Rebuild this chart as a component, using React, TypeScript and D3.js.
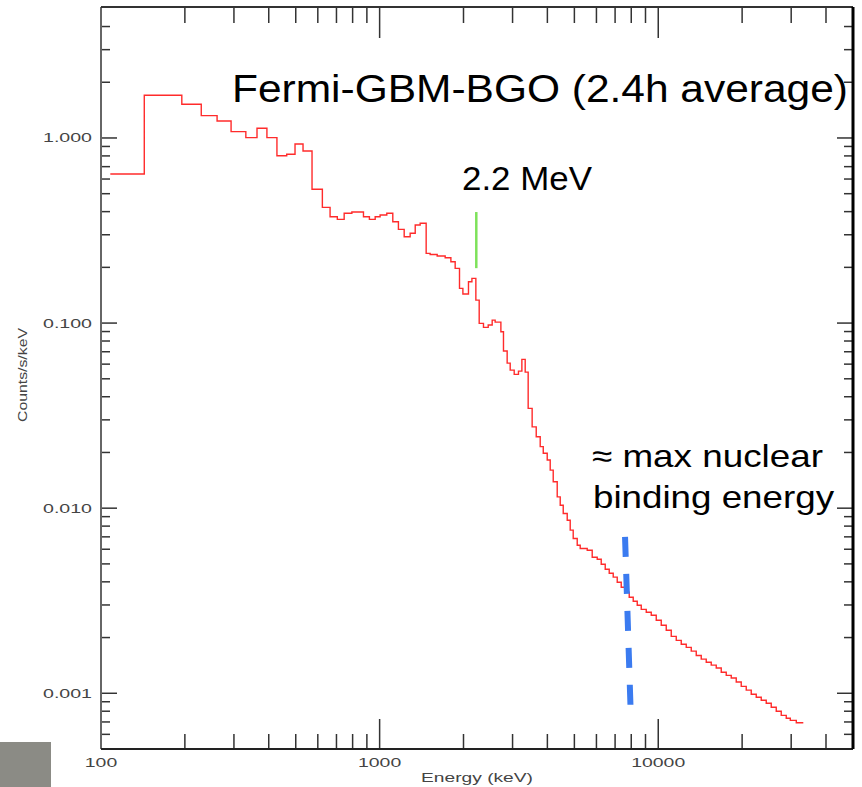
import React from "react";
import * as d3 from "d3";

// ---- Data ----
// bin edges in keV (length = values.length + 1)
const binEdges: number[] = [
  108, 143, 195, 229, 261, 293, 331, 363, 394, 428,
  464, 497, 531, 572, 623, 664, 705, 746, 795, 875,
  919, 964, 1004, 1061, 1115, 1168, 1225, 1287, 1342, 1398,
  1469, 1518, 1609, 1719, 1802, 1867, 1935, 1990, 2084, 2144,
  2215, 2277, 2359, 2453, 2535, 2598, 2724, 2783, 2869, 2942,
  3041, 3150, 3240, 3330, 3413, 3527, 3648, 3770, 3866, 3995,
  4095, 4198, 4339, 4448, 4560, 4713, 4831, 4952, 5119, 5247,
  5560, 5794, 6039, 6242, 6452, 6669, 6893, 7125, 7364, 7612,
  7868, 8132, 8406, 8689, 9056, 9438, 9836, 10251, 10683, 11134,
  11604, 12093, 12603, 13135, 13689, 14266, 14868, 15495, 16149, 16830,
  17540, 18280, 19051, 19854, 20692, 21565, 22475, 23423, 24411, 25441,
  26515, 27633, 28799, 29785, 31294, 33161,
];

// counts/s/keV per bin
const countRates: number[] = [
  0.639, 1.701, 1.521, 1.32, 1.236, 1.082, 1.004, 1.128, 1.004, 0.802,
  0.816, 0.928, 0.851, 0.528, 0.422, 0.3755, 0.3634, 0.3917, 0.398, 0.3755,
  0.3634, 0.3755, 0.3834, 0.3917, 0.3528, 0.3209, 0.2927, 0.3054, 0.3386, 0.3459,
  0.2381, 0.2346, 0.2302, 0.2254, 0.2145, 0.1975, 0.154, 0.1435, 0.1672, 0.1744,
  0.1331, 0.0996, 0.0948, 0.0976, 0.1038, 0.1012, 0.0897, 0.0706, 0.0608, 0.0557,
  0.0528, 0.055, 0.0637, 0.0543, 0.0346, 0.0275, 0.0243, 0.0215, 0.0198, 0.0182,
  0.01605, 0.01388, 0.01151, 0.01038, 0.00936, 0.00861, 0.00761, 0.00686, 0.00631, 0.00606,
  0.00593, 0.00543, 0.0053, 0.00498, 0.00468, 0.00445, 0.00424, 0.00398, 0.00374, 0.00352,
  0.0033, 0.00314, 0.00299, 0.00284, 0.00274, 0.00264, 0.00248, 0.00233, 0.00219, 0.00203,
  0.00193, 0.00184, 0.00177, 0.00169, 0.0016, 0.00153, 0.00147, 0.00142, 0.00137, 0.0013,
  0.00125, 0.00121, 0.00115, 0.00109, 0.00104, 0.000988, 0.000952, 0.000917, 0.000883, 0.00084,
  0.000799, 0.00076, 0.000733, 0.000714, 0.000693,
];

const xMajorTicks: number[] = [100, 1000, 10000];
const xMajorLabels: string[] = ["100", "1000", "10000"];
const xMinorTicks: number[] = [
  200, 300, 400, 500, 600, 700, 800, 900,
  2000, 3000, 4000, 5000, 6000, 7000, 8000, 9000,
  20000, 30000, 40000,
];
const yMajorTicks: number[] = [0.001, 0.01, 0.1, 1];
const yMajorLabels: string[] = ["0.001", "0.010", "0.100", "1.000"];
const yMinorTicks: number[] = [
  0.0006, 0.0007, 0.0008, 0.0009,
  0.002, 0.003, 0.004, 0.005, 0.006, 0.007, 0.008, 0.009,
  0.02, 0.03, 0.04, 0.05, 0.06, 0.07, 0.08, 0.09,
  0.2, 0.3, 0.4, 0.5, 0.6, 0.7, 0.8, 0.9,
  2, 3, 4,
];

const xDomain: [number, number] = [100, 50000];
const yDomain: [number, number] = [0.0005, 5.1];

const titleText = "Fermi-GBM-BGO (2.4h average)";
const lineLabel = "2.2 MeV";
const lineEnergy = 2223; // keV
const lineRange: [number, number] = [0.398, 0.198];
const bindingLabel1 = "\u2248 max nuclear";
const bindingLabel2 = "binding energy";
const bindingEnergyTop = 7600; // keV
const bindingEnergyBottom = 7950; // keV
const bindingRange: [number, number] = [0.0070, 0.00085];
const xAxisTitle = "Energy (keV)";
const yAxisTitle = "Counts/s/keV";

const W = 862;
const H = 787;
const L = 101, R = 853, T = 7, B = 749;

export default function App() {
  const x = d3.scaleLog().domain(xDomain).range([L, R]);
  const y = d3.scaleLog().domain(yDomain).range([B, T]);

  const pts: [number, number][] = countRates.map((v, i) => [binEdges[i], v]);
  pts.push([binEdges[binEdges.length - 1], countRates[countRates.length - 1]]);
  const line = d3
    .line<[number, number]>()
    .x((d) => x(d[0]))
    .y((d) => y(d[1]))
    .curve(d3.curveStepAfter);

  const tickColor = "#333";
  const labelFont = "'Liberation Sans', Arial, sans-serif";

  return (
    <svg
      width={W}
      height={H}
      style={{ position: "absolute", left: 0, top: 0, display: "block", background: "#fff" }}
    >
      <rect x={0} y={0} width={W} height={H} fill="#ffffff" />
      {/* gray block bottom-left */}
      <rect x={0} y={742} width={51} height={45} fill="#8b8b85" />

      {/* x ticks bottom and top */}
      {xMinorTicks.map((t) => (
        <g key={"xm" + t} stroke={tickColor} strokeWidth={1.5}>
          <line x1={x(t)} x2={x(t)} y1={B} y2={B - 15} />
          <line x1={x(t)} x2={x(t)} y1={T} y2={T + 16} />
        </g>
      ))}
      {xMajorTicks.map((t) => (
        <g key={"xM" + t} stroke={tickColor} strokeWidth={1.5}>
          <line x1={x(t)} x2={x(t)} y1={B} y2={B - 30} />
          <line x1={x(t)} x2={x(t)} y1={T} y2={T + 31} />
        </g>
      ))}
      {/* y ticks left and right */}
      {yMinorTicks.map((t) => (
        <g key={"ym" + t} stroke={tickColor} strokeWidth={1.5}>
          <line x1={L} x2={L + 9} y1={y(t)} y2={y(t)} />
          <line x1={R} x2={R - 9} y1={y(t)} y2={y(t)} />
        </g>
      ))}
      {yMajorTicks.map((t) => (
        <g key={"yM" + t} stroke={tickColor} strokeWidth={1.5}>
          <line x1={L} x2={L + 16} y1={y(t)} y2={y(t)} />
          <line x1={R} x2={R - 16} y1={y(t)} y2={y(t)} />
        </g>
      ))}

      {/* frame */}
      <line x1={L} x2={L} y1={T} y2={B} stroke="#666" strokeWidth={2} />
      <line x1={L} x2={R} y1={B} y2={B} stroke="#222" strokeWidth={2} />
      <line x1={L} x2={R} y1={T} y2={T} stroke="#333" strokeWidth={2} />
      <line x1={R} x2={R} y1={T} y2={B} stroke="#000" strokeWidth={3} />

      {/* tick labels */}
      {xMajorTicks.map((t, i) => (
        <text
          key={"xl" + t}
          x={x(t)}
          y={767}
          textAnchor="middle"
          fontFamily={labelFont}
          fontSize={12}
          fill="#444"
          textLength={xMajorLabels[i].length * 10.8}
          lengthAdjust="spacingAndGlyphs"
        >
          {xMajorLabels[i]}
        </text>
      ))}
      {yMajorTicks.map((t, i) => (
        <text
          key={"yl" + t}
          x={92}
          y={y(t) + 4.5}
          textAnchor="end"
          fontFamily={labelFont}
          fontSize={12}
          fill="#444"
          textLength={49}
          lengthAdjust="spacingAndGlyphs"
        >
          {yMajorLabels[i]}
        </text>
      ))}
      <text
        x={(L + R) / 2}
        y={782}
        textAnchor="middle"
        fontFamily={labelFont}
        fontSize={12.5}
        fill="#444"
        textLength={112}
        lengthAdjust="spacingAndGlyphs"
      >
        {xAxisTitle}
      </text>
      <text
        transform={`translate(27, ${(T + B) / 2 - 3}) rotate(-90)`}
        textAnchor="middle"
        fontFamily={labelFont}
        fontSize={12.5}
        fill="#444"
        textLength={94}
        lengthAdjust="spacingAndGlyphs"
      >
        {yAxisTitle}
      </text>

      {/* spectrum */}
      <path d={line(pts) || ""} fill="none" stroke="#ff2b2b" strokeWidth={1.4} strokeLinejoin="miter" />

      {/* 2.2 MeV marker */}
      <line
        x1={x(lineEnergy)}
        x2={x(lineEnergy)}
        y1={y(lineRange[0])}
        y2={y(lineRange[1])}
        stroke="#7ee25a"
        strokeWidth={2.5}
      />
      {/* max binding energy marker */}
      <line
        x1={x(bindingEnergyTop)}
        x2={x(bindingEnergyBottom)}
        y1={y(bindingRange[0])}
        y2={y(bindingRange[1])}
        stroke="#3b7bf0"
        strokeWidth={6}
        strokeDasharray="20 17"
      />

      {/* annotations */}
      <text
        x={232}
        y={102}
        fontFamily={labelFont}
        fontSize={38}
        fill="#000"
        textLength={616}
        lengthAdjust="spacingAndGlyphs"
      >
        {titleText}
      </text>
      <text
        x={462}
        y={190}
        fontFamily={labelFont}
        fontSize={33}
        fill="#000"
        textLength={130}
        lengthAdjust="spacingAndGlyphs"
      >
        {lineLabel}
      </text>
      <text
        x={592}
        y={467}
        fontFamily={labelFont}
        fontSize={32}
        fill="#000"
        textLength={231}
        lengthAdjust="spacingAndGlyphs"
      >
        {bindingLabel1}
      </text>
      <text
        x={593}
        y={508}
        fontFamily={labelFont}
        fontSize={32}
        fill="#000"
        textLength={241}
        lengthAdjust="spacingAndGlyphs"
      >
        {bindingLabel2}
      </text>
    </svg>
  );
}
